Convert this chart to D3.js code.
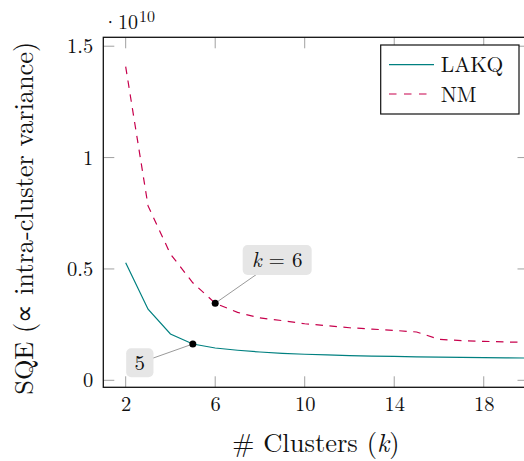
<!DOCTYPE html>
<html>
<head>
<meta charset="utf-8">
<script src="https://cdn.jsdelivr.net/npm/d3@7"></script>
<style>
  html, body { margin: 0; padding: 0; background: #fff; }
  svg { display: block; }
</style>
</head>
<body>
<div id="chart"></div>
<script>
// ---- data ----
const clusters = [2, 3, 4, 5, 6, 7, 8, 9, 10, 11, 12, 13, 14, 15, 16, 17, 18, 19, 20];
const lakq = [0.528, 0.319, 0.208, 0.163, 0.145, 0.135, 0.127, 0.121, 0.117, 0.114, 0.111, 0.109, 0.107, 0.105, 0.104, 0.103, 0.102, 0.101, 0.100];
const nm   = [1.408, 0.783, 0.567, 0.438, 0.346, 0.305, 0.280, 0.268, 0.254, 0.245, 0.236, 0.230, 0.224, 0.217, 0.184, 0.178, 0.175, 0.172, 0.170];
const seriesNames = ["LAKQ", "NM"];
const xTicks = [2, 6, 10, 14, 18];
const yTicks = [0, 0.5, 1, 1.5];
const xDomain = [1, 20];
const yDomain = [-0.0314, 1.540];
const annotations = [
  { series: "NM", k: 6, label: "k6" },
  { series: "LAKQ", k: 5, label: "5" }
];

// ---- layout ----
const FONT = '"Latin Modern Roman", "Liberation Serif", serif';
const W = 524, H = 461;
const L = 103.3, R = 528.5, T = 37.3, B = 387.3;
const teal = "#008080", crimson = "#c7004c", tickGrey = "#a0a0a0";

const svg = d3.select("#chart").append("svg").attr("width", W).attr("height", H);
function txt(sel) { return sel.style("font-family", FONT).attr("fill", "#111"); }

const x = d3.scaleLinear().domain(xDomain).range([L, R]);
const y = d3.scaleLinear().domain(yDomain).range([B, T]);

svg.append("clipPath").attr("id", "clip")
  .append("rect").attr("x", L).attr("y", T).attr("width", R - L).attr("height", B - T);

// ticks (inner, mirrored on all sides)
const tickLen = 11;
const tg = svg.append("g").attr("stroke", tickGrey).attr("stroke-width", 1);
xTicks.forEach(v => {
  tg.append("line").attr("x1", x(v)).attr("x2", x(v)).attr("y1", B).attr("y2", B - tickLen);
  tg.append("line").attr("x1", x(v)).attr("x2", x(v)).attr("y1", T).attr("y2", T + tickLen);
});
yTicks.forEach(v => {
  tg.append("line").attr("x1", L).attr("x2", L + tickLen).attr("y1", y(v)).attr("y2", y(v));
  tg.append("line").attr("x1", R).attr("x2", R - tickLen).attr("y1", y(v)).attr("y2", y(v));
});

// tick labels via axes (no domain/tick lines drawn)
const xAxis = d3.axisBottom(x).tickValues(xTicks).tickSize(0).tickPadding(0).tickFormat(d3.format("d"));
const gx = svg.append("g").attr("transform", `translate(0,${B})`).call(xAxis);
gx.select(".domain").remove();
gx.selectAll("text").attr("dy", null).attr("y", 24).style("font-size", "20.5px").call(txt);

const yAxis = d3.axisLeft(y).tickValues(yTicks).tickSize(0).tickPadding(0).tickFormat(d => String(d));
const gy = svg.append("g").attr("transform", `translate(${L},0)`).call(yAxis);
gy.select(".domain").remove();
gy.selectAll("text").attr("x", -10).attr("dy", "0.32em").style("font-size", "20.5px").call(txt);

// scale factor label
const sf = svg.append("text").attr("x", 102.5).attr("y", 29.3).style("font-size", "20px").call(txt);
sf.append("tspan").text("·10");
sf.append("tspan").attr("dy", -7.6).attr("dx", 1).style("font-size", "16px").text("10");

// series lines
const line = d3.line().x((d, i) => x(clusters[i])).y(d => y(d));
const plot = svg.append("g").attr("clip-path", "url(#clip)");
plot.append("path").datum(lakq).attr("d", line).attr("fill", "none")
  .attr("stroke", teal).attr("stroke-width", 1.2);
plot.append("path").datum(nm).attr("d", line).attr("fill", "none")
  .attr("stroke", crimson).attr("stroke-width", 1.2).attr("stroke-dasharray", "7.5,6.5");

// frame
svg.append("rect").attr("x", L).attr("y", T).attr("width", R - L).attr("height", B - T)
  .attr("fill", "none").attr("stroke", "#111").attr("stroke-width", 1.3);

// annotations
const annOffsets = { "NM": [62, -43.3], "LAKQ": [-53, 18.8] };
const annBoxes = { "NM": [69, 30], "LAKQ": [27.3, 29] };
annotations.forEach(a => {
  const vals = a.series === "NM" ? nm : lakq;
  const i = clusters.indexOf(a.k);
  const px = x(clusters[i]), py = y(vals[i]);
  const [ox, oy] = annOffsets[a.series];
  const [bw, bh] = annBoxes[a.series];
  const cx = px + ox, cy = py + oy;
  svg.append("line").attr("x1", cx).attr("y1", cy).attr("x2", px).attr("y2", py)
    .attr("stroke", "#9a9a9a").attr("stroke-width", 1);
  svg.append("rect").attr("x", cx - bw / 2).attr("y", cy - bh / 2).attr("width", bw).attr("height", bh)
    .attr("rx", 5).attr("fill", "#e6e6e6");
  const t = svg.append("text").attr("x", cx).attr("y", cy).attr("dy", "0.33em")
    .attr("text-anchor", "middle").style("font-size", "21px").call(txt);
  if (a.label === "k6") {
    t.append("tspan").style("font-style", "italic").text("k");
    t.append("tspan").text(" = " + a.k);
  } else {
    t.text(a.label);
  }
  svg.append("circle").attr("cx", px).attr("cy", py).attr("r", 3.5).attr("fill", "#000");
});

// legend
const lg = svg.append("g");
const lx = 380.7, ly = 45, lw = 138.3, lh = 69;
lg.append("rect").attr("x", lx).attr("y", ly).attr("width", lw).attr("height", lh)
  .attr("fill", "#fff").attr("stroke", "#111").attr("stroke-width", 1.2);
const legRows = [
  { name: seriesNames[0], color: teal, dash: null, yy: 64.7 },
  { name: seriesNames[1], color: crimson, dash: "7.5,7.5", yy: 94 }
];
legRows.forEach(r => {
  lg.append("line").attr("x1", 389).attr("x2", 434).attr("y1", r.yy).attr("y2", r.yy)
    .attr("stroke", r.color).attr("stroke-width", 1.2).attr("stroke-dasharray", r.dash);
  lg.append("text").attr("x", 440.7).attr("y", r.yy).attr("dy", "0.35em")
    .style("font-size", "21.5px").call(txt).text(r.name);
});

// axis titles
svg.append("text").attr("x", (L + R) / 2).attr("y", 452).attr("text-anchor", "middle")
  .style("font-size", "26.5px").call(txt)
  .call(t => {
    t.append("tspan").text("# Clusters (");
    t.append("tspan").style("font-style", "italic").text("k");
    t.append("tspan").text(")");
  });
svg.append("text").attr("transform", `translate(33,${(T + B) / 2 + 6}) rotate(-90)`)
  .attr("text-anchor", "middle").style("font-size", "26.3px").call(txt)
  .text("SQE (∝ intra-cluster variance)");
</script>
</body>
</html>
